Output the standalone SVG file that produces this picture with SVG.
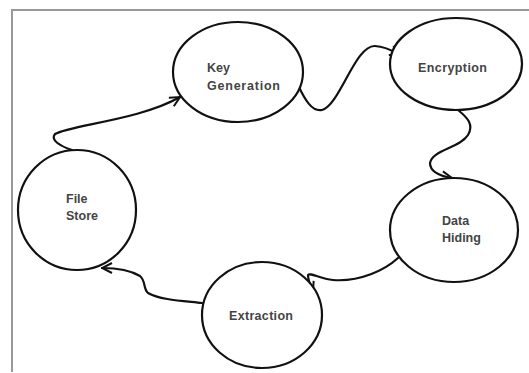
<svg xmlns="http://www.w3.org/2000/svg" width="529" height="373" viewBox="0 0 529 373">
<style>
.n{fill:#fff;stroke:#111;stroke-width:2.2}
.t{font-family:"Liberation Sans",Arial,sans-serif;font-size:12.5px;font-weight:bold;fill:#444}
.c{fill:none;stroke:#111;stroke-width:2.2;stroke-linecap:round;stroke-linejoin:round}
</style>
<defs>
<marker id="a" viewBox="0 0 12 12" refX="11" refY="6" markerWidth="12" markerHeight="12" markerUnits="userSpaceOnUse" orient="auto">
<path d="M1,1 L11,6 L1,11" fill="none" stroke="#111" stroke-width="2"/>
</marker>
</defs>
<rect x="0" y="0" width="529" height="373" fill="#fff"/>
<path d="M12,372 V10 H529" fill="none" stroke="#999" stroke-width="2"/>
<g id="connectors">
<path class="c" d="M72,150 C60,146 50,140 55,134 C70,125 140,120 180,97" marker-end="url(#a)"/>
<path class="c" d="M298,85 C305,100 312,112 322,110 C340,105 355,45 375,46 C388,47 394,52 400,55" marker-end="url(#a)"/>
<path class="c" d="M458,110 C468,118 474,125 468,135 C460,148 432,150 430,163 C430,172 440,176 452,178" marker-end="url(#a)"/>
<path class="c" d="M398,258 C385,270 360,282 333,280 C320,279 310,272 308,275 C308,280 310,285 313,292" marker-end="url(#a)"/>
<path class="c" d="M202,303 C185,301 160,300 148,293 C143,289 146,281 140,276 C130,270 115,268 102,268" marker-end="url(#a)"/>
</g>
<g id="key-generation">
<ellipse class="n" cx="238" cy="72" rx="65" ry="50"/>
<text class="t" x="207" y="72">Key</text>
<text class="t" x="207" y="90" textLength="73">Generation</text>
</g>
<g id="encryption">
<ellipse class="n" cx="456" cy="64" rx="66" ry="46"/>
<text class="t" x="418" y="72" textLength="69">Encryption</text>
</g>
<g id="data-hiding">
<ellipse class="n" cx="454" cy="230" rx="64" ry="52"/>
<text class="t" x="442" y="225">Data</text>
<text class="t" x="442" y="242">Hiding</text>
</g>
<g id="file-store">
<ellipse class="n" cx="77" cy="210" rx="59" ry="60"/>
<text class="t" x="66" y="203">File</text>
<text class="t" x="66" y="220">Store</text>
</g>
<g id="extraction">
<ellipse class="n" cx="262" cy="315" rx="60" ry="53"/>
<text class="t" x="229" y="320" textLength="64">Extraction</text>
</g>
</svg>
